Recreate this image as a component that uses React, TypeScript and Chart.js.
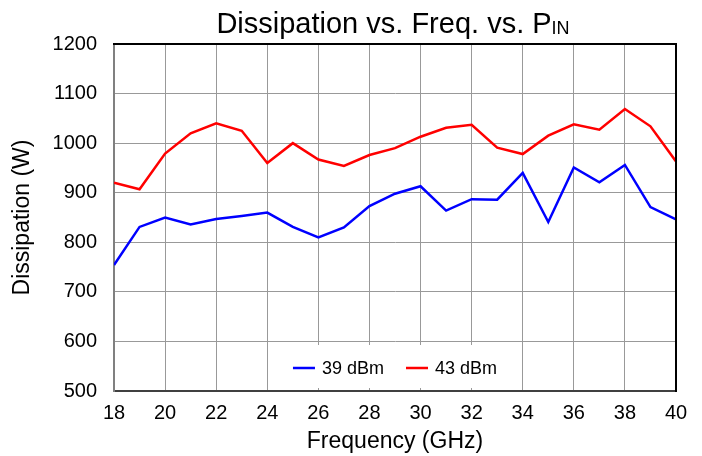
import React, { useEffect, useRef } from 'react';
import { Chart, registerables } from 'chart.js';

Chart.register(...registerables);

const FONT = '"Liberation Sans", Arial, sans-serif';

const frequencies = [18, 19, 20, 21, 22, 23, 24, 25, 26, 27, 28, 29, 30, 31, 32, 33, 34, 35, 36, 37, 38, 39, 40];
const dissipation39 = [754, 831, 850, 836, 847, 853, 860, 831, 810, 830, 873, 898, 913, 864, 887, 886, 940, 841, 951, 921, 956, 871, 846];
const dissipation43 = [920, 907, 979, 1020, 1040, 1025, 960, 1000, 967, 954, 976, 990, 1013, 1031, 1037, 991, 978, 1015, 1038, 1027, 1069, 1034, 963];
const seriesLabels = ['39 dBm', '43 dBm'];
const seriesColors = ['#0000ff', '#ff0000'];
const titleMain = 'Dissipation vs. Freq. vs. P';
const titleSub = 'IN';
const xTitle = 'Frequency (GHz)';
const yTitle = 'Dissipation (W)';

const customPlugin = {
  id: 'customDecor',
  beforeDatasetsDraw(chart: any) {
    const ctx = chart.ctx;
    const area = chart.chartArea;
    const lay = legendLayout(chart);
    ctx.save();
    ctx.fillStyle = '#ffffff';
    ctx.fillRect(lay.boxLeft, 345, lay.boxRight - lay.boxLeft, area.bottom - 3 - 345);
    ctx.restore();
  },
  afterDraw(chart: any) {
    const ctx = chart.ctx;
    const area = chart.chartArea;
    ctx.save();
    // top & right frame
    ctx.strokeStyle = '#000000';
    ctx.lineWidth = 2;
    ctx.beginPath();
    ctx.moveTo(area.left - 1, area.top);
    ctx.lineTo(area.right, area.top);
    ctx.lineTo(area.right, area.bottom + 1);
    ctx.stroke();

    // title with subscript
    ctx.fillStyle = '#000000';
    ctx.textBaseline = 'alphabetic';
    ctx.textAlign = 'left';
    ctx.font = `29px ${FONT}`;
    const wMain = ctx.measureText(titleMain).width;
    ctx.font = `18px ${FONT}`;
    const wSub = ctx.measureText(titleSub).width;
    const cx = (area.left + area.right) / 2;
    const x0 = cx - (wMain + wSub) / 2 - 2;
    ctx.font = `29px ${FONT}`;
    ctx.fillText(titleMain, x0, 33);
    ctx.font = `18px ${FONT}`;
    ctx.fillText(titleSub, x0 + wMain, 34);

    // legend
    const lay = legendLayout(chart);
    ctx.font = `18px ${FONT}`;
    ctx.textBaseline = 'middle';
    lay.items.forEach((it: any) => {
      ctx.strokeStyle = it.color;
      ctx.lineWidth = 2.5;
      ctx.beginPath();
      ctx.moveTo(it.lineX, lay.y);
      ctx.lineTo(it.lineX + 22, lay.y);
      ctx.stroke();
      ctx.fillStyle = '#000000';
      ctx.fillText(it.label, it.textX, lay.y + 1);
    });
    ctx.restore();
  },
};

function legendLayout(chart: any) {
  const ctx = chart.ctx;
  const area = chart.chartArea;
  ctx.save();
  ctx.font = `18px ${FONT}`;
  const widths = seriesLabels.map((l) => ctx.measureText(l).width);
  ctx.restore();
  const lineW = 22;
  const gapText = 7;
  const gapItem = 22;
  let total = 0;
  widths.forEach((w, i) => {
    total += lineW + gapText + w + (i < widths.length - 1 ? gapItem : 0);
  });
  const cx = (area.left + area.right) / 2;
  let x = cx - total / 2;
  const items: any[] = [];
  widths.forEach((w, i) => {
    items.push({ lineX: x, textX: x + lineW + gapText, label: seriesLabels[i], color: seriesColors[i] });
    x += lineW + gapText + w + gapItem;
  });
  const start = cx - total / 2;
  return { items, y: 368, boxLeft: start - 20, boxRight: start + total + 20 };
}

export default function App() {
  const canvasRef = useRef<HTMLCanvasElement | null>(null);

  useEffect(() => {
    const canvas = canvasRef.current;
    if (!canvas) return;
    const mk = (vals: number[]) => frequencies.map((f, i) => ({ x: f, y: vals[i] }));
    const chart = new Chart(canvas, {
      type: 'line',
      data: {
        datasets: [
          { label: seriesLabels[0], data: mk(dissipation39), borderColor: seriesColors[0], backgroundColor: seriesColors[0], borderWidth: 2.5, pointRadius: 0, tension: 0, fill: false },
          { label: seriesLabels[1], data: mk(dissipation43), borderColor: seriesColors[1], backgroundColor: seriesColors[1], borderWidth: 2.5, pointRadius: 0, tension: 0, fill: false },
        ],
      },
      options: {
        animation: false,
        responsive: false,
        devicePixelRatio: 1,
        layout: { padding: { top: 44, right: 26, left: 0, bottom: 0 } },
        plugins: {
          legend: { display: false },
          title: { display: false },
          tooltip: { enabled: false },
        },
        scales: {
          x: {
            type: 'linear',
            min: 18,
            max: 40,
            ticks: { stepSize: 2, autoSkip: false, maxRotation: 0, color: '#000', padding: 10, font: { family: FONT, size: 20 }, callback: (v: any) => String(v) },
            grid: { color: '#999999', lineWidth: 1, drawTicks: false },
            border: { color: '#404040', width: 2 },
            title: { display: true, text: xTitle, color: '#000', font: { family: FONT, size: 23 }, padding: { top: 0, bottom: 1 } },
            afterFit: (s: any) => { s.height = 65; },
          },
          y: {
            type: 'linear',
            min: 500,
            max: 1200,
            ticks: { stepSize: 100, color: '#000', padding: 17, font: { family: FONT, size: 20 }, callback: (v: any) => String(v) },
            grid: { color: '#999999', lineWidth: 1, drawTicks: false },
            border: { color: '#808080', width: 2 },
            title: { display: true, text: yTitle, color: '#000', font: { family: FONT, size: 23 }, padding: { top: 9, bottom: 0 } },
            afterFit: (s: any) => { s.width = 114; },
          },
        },
      },
      plugins: [customPlugin],
    });
    return () => chart.destroy();
  }, []);

  return (
    <div style={{ position: 'fixed', left: 0, top: 0, width: 702, height: 456, background: '#fff' }}>
      <canvas ref={canvasRef} width={702} height={456} />
    </div>
  );
}
